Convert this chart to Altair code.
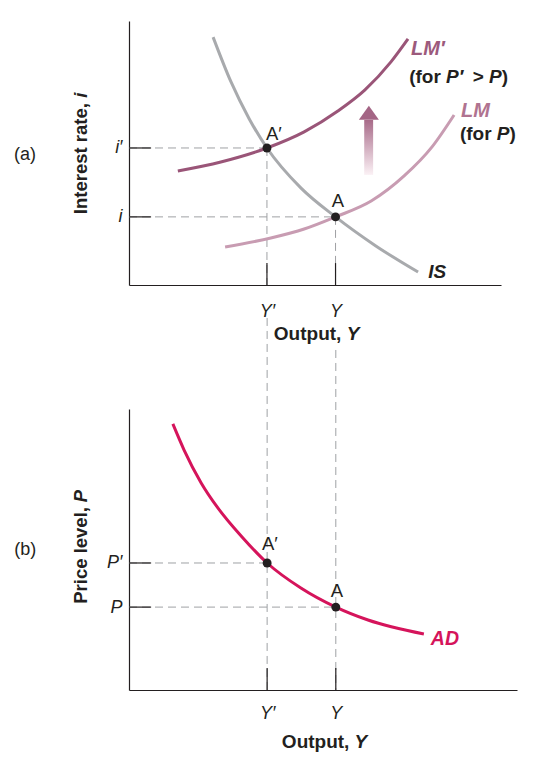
import altair as alt
import pandas as pd

FONT = "Liberation Sans"
INK = "#231f20"
DASH_GRAY = "#9fa1a4"
IS_COLOR = "#a8aaad"
LM1_COLOR = "#9a5578"
LM_COLOR = "#c89cb2"
AD_COLOR = "#d5145b"
LM1_TEXT = "#9c5a7c"
LM_TEXT = "#b07390"
ARROW_COLOR = "#a46585"

# ---- key values ----
Y_VALUES = [35.6, 53.3]   # Y', Y
I_VALUES = [51.9, 25.8]   # i', i
P_VALUES = [45.2, 29.5]   # P', P

# ---- curves ----
IS_X = [21.7, 26.3, 31.0, 35.6, 44.4, 53.3, 63.7, 74.6]
IS_Y = [93.9, 77.0, 63.0, 51.9, 36.7, 25.8, 14.8, 4.9]
LM1_X = [12.6, 23.7, 35.6, 45.2, 53.9, 60.9, 67.6, 72.0]
LM1_Y = [43.2, 46.6, 51.9, 58.0, 65.9, 73.9, 84.5, 93.2]
LM_X = [24.8, 36.6, 45.2, 53.3, 62.5, 71.0, 78.2, 83.9]
LM_Y = [14.4, 17.8, 21.2, 25.8, 31.8, 41.3, 52.3, 64.4]
AD_X = [11.3, 14.2, 18.6, 22.9, 28.9, 35.6, 44.3, 53.3, 61.6, 76.0]
AD_Y = [94.7, 85.4, 73.7, 64.8, 54.8, 45.2, 36.3, 29.5, 24.9, 19.9]

# ---- annotation anchors (data units) ----
TICK_TOP_X, TICK_TOP_Y = 5.7, 8.3
TICK_BOT_X, TICK_BOT_Y = 5.7, 7.8
LINK_TOP = [132.4, 121.0]      # where the vertical guides re-start above panel (b)
ARROW_SHAFT = {"x": [60.7], "x2": [63.0], "y": [41.7], "y2": [62.5]}
ARROW_HEAD = {"x": [61.9], "y": [65.2]}


def axis_x(values, expr, pad):
    return alt.Axis(values=values, labelExpr=expr, ticks=False, tickSize=0, grid=False,
                    domainColor=INK, domainWidth=1.2, labelFont=FONT, labelFontSize=18,
                    labelFontStyle="italic", labelColor=INK, labelPadding=pad,
                    labelFlush=False, labelOverlap=False, title=None)


def axis_y(values, expr):
    return alt.Axis(values=values, labelExpr=expr, ticks=False, tickSize=0, grid=False,
                    domainColor=INK, domainWidth=1.2, labelFont=FONT, labelFontSize=18,
                    labelFontStyle="italic", labelColor=INK, labelPadding=7,
                    labelFlush=False, labelOverlap=False, title=None)


class Panel:
    def __init__(self, xdom, ydom, xaxis, yaxis):
        self.xs = alt.Scale(domain=xdom, nice=False, zero=False)
        self.ys = alt.Scale(domain=ydom, nice=False, zero=False)
        self.xaxis = xaxis
        self.yaxis = yaxis

    def enc(self, x2=False, y2=False):
        d = dict(
            x=alt.X("x", type="quantitative", scale=self.xs, axis=self.xaxis),
            y=alt.Y("y", type="quantitative", scale=self.ys, axis=self.yaxis),
        )
        if x2:
            d["x2"] = alt.X2("x2")
        if y2:
            d["y2"] = alt.Y2("y2")
        return d

    def texts(self, rows, **style):
        df = pd.DataFrame(rows, columns=["text", "x", "y"])
        return alt.Chart(df).mark_text(font=FONT, **style).encode(**self.enc(), text="text:N")

    def curve(self, xv, yv, color):
        return alt.Chart(pd.DataFrame({"x": xv, "y": yv})).mark_line(
            color=color, strokeWidth=3, interpolate="monotone").encode(**self.enc())

    def guides(self, yvals, tick_x, tick_y, vtop=None):
        top = vtop if vtop is not None else yvals
        hd = alt.Chart(pd.DataFrame({"x": [0, 0], "x2": Y_VALUES, "y": yvals})).mark_rule(
            color=DASH_GRAY, strokeDash=[8, 5], strokeWidth=1).encode(**self.enc(x2=True))
        vd = alt.Chart(pd.DataFrame({"x": Y_VALUES, "y": top, "y2": [0, 0]})).mark_rule(
            color=DASH_GRAY, strokeDash=[8, 5], strokeWidth=1).encode(**self.enc(y2=True))
        ht = alt.Chart(pd.DataFrame({"x": [0, 0], "x2": [tick_x, tick_x], "y": yvals})).mark_rule(
            color=INK, strokeWidth=1.2).encode(**self.enc(x2=True))
        vt = alt.Chart(pd.DataFrame({"x": Y_VALUES, "y": [0, 0], "y2": [tick_y, tick_y]})).mark_rule(
            color=INK, strokeWidth=1.2).encode(**self.enc(y2=True))
        return [hd, vd, ht, vt]

    def points(self, yvals):
        return alt.Chart(pd.DataFrame({"x": Y_VALUES, "y": yvals})).mark_circle(
            size=80, color=INK, opacity=1).encode(**self.enc())


BOLD = dict(fontWeight="bold", baseline="alphabetic", color=INK)
BOLD_IT = dict(fontWeight="bold", fontStyle="italic", baseline="alphabetic")

# ---------------- panel (a) ----------------
A = Panel([0, 96], [0, 100],
          axis_x(Y_VALUES, "datum.value < 45 ? 'Y′' : 'Y'", 17),
          axis_y(I_VALUES, "datum.value > 40 ? 'i′' : 'i'"))
top_layers = A.guides(I_VALUES, TICK_TOP_X, TICK_TOP_Y)
top_layers += [
    A.curve(IS_X, IS_Y, IS_COLOR),
    A.curve(LM_X, LM_Y, LM_COLOR),
    A.curve(LM1_X, LM1_Y, LM1_COLOR),
    alt.Chart(pd.DataFrame(ARROW_SHAFT)).mark_rect(
        color=alt.Gradient(gradient="linear",
                           stops=[alt.GradientStop(color="#fbf1f5", offset=0),
                                  alt.GradientStop(color="#a86b89", offset=1)],
                           x1=0, x2=0, y1=1, y2=0)).encode(**A.enc(x2=True, y2=True)),
    alt.Chart(pd.DataFrame(ARROW_HEAD)).mark_point(
        shape="M0,-0.7L1,0.7L-1,0.7Z", size=400, filled=True, color=ARROW_COLOR,
        opacity=1, strokeWidth=0).encode(**A.enc()),
    A.points(I_VALUES),
    A.texts([("A′", 37.4, 54.9), ("A", 53.9, 29.5)],
            fontSize=18.5, align="center", baseline="alphabetic", color=INK),
    A.texts([("LM′", 72.8, 87.1)], fontSize=20, align="left", color=LM1_TEXT, **BOLD_IT),
    A.texts([("LM", 85.7, 63.6)], fontSize=20, align="left", color=LM_TEXT, **BOLD_IT),
    A.texts([("IS", 77.2, 2.65)], fontSize=19, align="left", color=INK, **BOLD_IT),
    A.texts([("(for", 72.3, 76.5), (">", 88.7, 76.5), (")", 96.2, 76.5),
             ("(for", 85.4, 54.9), (")", 98.2, 54.9)], fontSize=19, align="left", **BOLD),
    A.texts([("P′", 81.8, 76.5), ("P", 92.9, 76.5), ("P", 94.9, 54.9)],
            fontSize=19, align="left", color=INK, **BOLD_IT),
    A.texts([("(a)", -29.7, 47.5)], fontSize=18, align="left",
            baseline="alphabetic", color=INK),
    A.texts([("Interest rate,", -12.4, 68.9)], fontSize=18.5, fontWeight="bold",
            angle=270, align="right", baseline="middle", color=INK),
    A.texts([("i", -12.4, 70.9)], fontSize=18.5, fontWeight="bold", fontStyle="italic",
            angle=270, align="left", baseline="middle", color=INK),
    A.texts([("Output,", 54.8, -20.8)], fontSize=19, align="right", **BOLD),
    A.texts([("Y", 56.2, -20.8)], fontSize=19, align="left", color=INK, **BOLD_IT),
]
top = alt.layer(*top_layers).properties(width=372, height=264)

# ---------------- panel (b) ----------------
B = Panel([0, 100], [0, 100],
          axis_x(Y_VALUES, "datum.value < 45 ? 'Y′' : 'Y'", 14),
          axis_y(P_VALUES, "datum.value > 40 ? 'P′' : 'P'"))
bot_layers = B.guides(P_VALUES, TICK_BOT_X, TICK_BOT_Y, vtop=LINK_TOP)
bot_layers += [
    B.curve(AD_X, AD_Y, AD_COLOR),
    B.points(P_VALUES),
    B.texts([("A′", 36.3, 49.8), ("A", 53.6, 33.1)],
            fontSize=18.5, align="center", baseline="alphabetic", color=INK),
    B.texts([("AD", 77.8, 16.0)], fontSize=19.5, align="left", color=AD_COLOR, **BOLD_IT),
    B.texts([("(b)", -29.6, 48.2)], fontSize=18, align="left",
            baseline="alphabetic", color=INK),
    B.texts([("Price level,", -12.4, 65.1)], fontSize=18.5, fontWeight="bold",
            angle=270, align="right", baseline="middle", color=INK),
    B.texts([("P", -12.4, 66.8)], fontSize=18.5, fontWeight="bold", fontStyle="italic",
            angle=270, align="left", baseline="middle", color=INK),
    B.texts([("Output,", 56.8, -20.6)], fontSize=19, align="right", **BOLD),
    B.texts([("Y", 58.1, -20.6)], fontSize=19, align="left", color=INK, **BOLD_IT),
]
bot = alt.layer(*bot_layers).properties(width=388, height=281)

chart = alt.vconcat(top, bot, spacing=124, bounds="flush").properties(
    padding={"left": 5, "top": 13, "right": 5, "bottom": 5}
).configure_view(stroke=None)

chart.save("out.html", embed_options={"renderer": "svg", "actions": False})
